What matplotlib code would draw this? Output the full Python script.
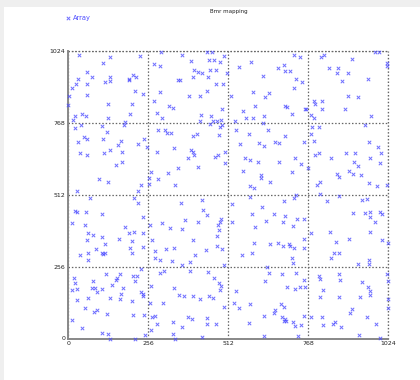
import matplotlib
matplotlib.use("Agg")
import matplotlib.pyplot as plt
from matplotlib.patches import Rectangle

# points (approximate)
array_x = [
    35, 110, 133, 230, 296, 363, 443, 459, 450, 466, 484, 392, 274, 293, 60, 77, 32, 26, 61, 13,
    132, 134, 116, 193, 195, 208, 217, 402, 414, 429, 455, 473, 399, 448, 352, 356, 472, 2, 59, 214,
    238, 294, 443, 386, 420, 0, 128, 204, 275, 321, 334, 285, 300, 424, 458, 43, 20, 57, 16, 128,
    196, 423, 462, 477, 455, 484,
    21, 42, 108, 179, 181, 50, 61, 32, 112, 123, 160, 168, 222, 241, 252, 37, 59, 114, 132, 173,
    153, 173, 99, 128, 233, 224, 27, 287, 308, 316, 329, 399, 412, 482, 285, 339, 392, 398, 401, 478,
    469, 384, 415, 350, 318, 264, 258, 288, 341, 258,
    499, 508, 494, 491, 489, 491, 503, 501, 584, 722, 742, 546, 672, 691, 694, 709, 622, 730, 748, 721,
    643, 629, 592, 520, 597, 695, 699, 558, 568, 592, 625, 716, 757, 762, 535, 624, 808, 819, 908, 981,
    994, 1019, 1021, 835, 864, 860, 896, 876, 958, 896, 928, 787, 788, 811, 812, 886, 970, 777, 785, 951,
    781, 803,
    537, 579, 549, 609, 627, 638, 661, 675, 694, 753, 564, 583, 608, 675, 725, 745, 768, 559, 617, 618,
    717, 646, 583, 595, 777, 785, 790, 802, 840, 890, 919, 915, 926, 965, 962, 991, 1001, 998, 898, 861,
    867, 911, 938, 962, 989, 1021, 797, 807,
    209, 224, 69, 21, 29, 57, 107, 11, 54, 64, 80, 59, 108, 117, 161, 181, 194, 209, 205, 240,
    239, 240, 197, 203, 89, 107, 112, 119, 37, 62, 62, 233, 360, 427, 431, 443, 375, 415, 300, 262,
    327, 364, 400, 267, 312, 338, 277, 405, 441, 477, 491, 477, 483, 480, 485, 490, 276, 293, 331, 388,
    364, 499,
    18, 23, 11, 27, 79, 121, 152, 157, 166, 206, 219, 213, 139, 75, 85, 92, 108, 132, 176, 165,
    169, 232, 238, 240, 29, 64, 203, 54, 82, 91, 123, 13, 207, 243, 43, 109, 128, 134, 214, 245,
    292, 305, 389, 448, 467, 482, 339, 355, 371, 398, 421, 450, 462, 484, 489, 497, 265, 262, 304, 269,
    276, 283, 266, 335, 383, 395, 364, 443, 444, 474, 336, 340, 427,
    583, 621, 690, 721, 728, 587, 659, 634, 692, 688, 598, 732, 718, 754, 593, 644, 672, 688, 705, 708,
    722, 754, 753, 556, 588, 720, 716, 523, 523,
    806, 867, 828, 940, 956, 912, 948, 966, 965, 996, 1003, 980, 838, 778, 858, 898, 967, 1003, 1022, 851,
    867, 840, 926, 963, 961,
    637, 631, 538, 529, 547, 580, 641, 684, 729, 753, 700, 743, 758, 725, 682, 689, 659, 662, 625, 684,
    694, 697, 690, 719, 724, 745, 754, 578, 625, 736,
    801, 806, 867, 869, 940, 958, 814, 807, 867, 935, 967, 964, 1021, 1022, 1022, 1022, 812, 778, 908, 902,
    846, 852, 814, 874, 957, 986, 930, 997,
]
array_y = [
    1009, 983, 1002, 1007, 1021, 1009, 1019, 1019, 993, 992, 986, 989, 976, 971, 950, 932, 926, 908, 905, 893,
    930, 918, 912, 926, 920, 938, 932, 957, 950, 946, 956, 958, 931, 930, 920, 920, 905, 864, 867, 881,
    872, 878, 883, 864, 863, 831, 835, 835, 847, 828, 821, 804, 787, 796, 793, 799, 793, 794, 777, 784,
    798, 773, 774, 774, 765, 755,
    750, 760, 757, 759, 772, 717, 709, 700, 711, 734, 689, 704, 691, 712, 683, 662, 653, 661, 670, 664,
    619, 628, 567, 558, 548, 525, 527, 741, 741, 733, 733, 723, 729, 724, 664, 678, 670, 665, 655, 655,
    645, 644, 610, 608, 589, 592, 570, 567, 546, 551,
    1007, 944, 905, 816, 778, 761, 665, 626, 986, 1009, 1002, 967, 962, 974, 952, 952, 935, 923, 914, 893,
    873, 860, 879, 863, 828, 828, 823, 810, 787, 786, 793, 798, 817, 817, 774, 766, 1002, 1009, 997, 1019,
    1021, 980, 971, 965, 962, 946, 946, 917, 925, 864, 860, 847, 837, 845, 817, 816, 793, 796, 784, 760,
    754, 754,
    741, 730, 691, 695, 686, 742, 700, 698, 721, 699, 643, 637, 628, 630, 643, 620, 608, 596, 582, 572,
    594, 558, 544, 537, 730, 704, 654, 662, 643, 661, 661, 627, 615, 643, 700, 681, 660, 624, 598, 586,
    576, 586, 582, 555, 542, 548, 546, 557,
    502, 483, 502, 455, 452, 450, 443, 413, 403, 376, 368, 350, 362, 338, 353, 398, 374, 378, 348, 376,
    433, 325, 323, 303, 317, 303, 302, 303, 297, 303, 281, 248, 481, 493, 457, 439, 422, 414, 413, 405,
    393, 391, 352, 352, 317, 321, 311, 299, 315, 330, 320, 365, 388, 405, 416, 424, 287, 279, 277, 271,
    261, 261,
    216, 198, 174, 175, 205, 228, 210, 215, 229, 224, 223, 205, 191, 179, 180, 166, 176, 146, 179, 141,
    160, 165, 158, 151, 138, 146, 135, 107, 96, 102, 87, 66, 83, 82, 38, 20, 17, 0, 0, 12,
    234, 241, 241, 238, 217, 199, 180, 155, 153, 151, 142, 151, 146, 171, 186, 113, 188, 127, 125, 77,
    79, 51, 32, 59, 75, 68, 41, 72, 53, 52, 15, 0, 6,
    505, 467, 490, 502, 511, 442, 445, 419, 436, 416, 398, 426, 400, 427, 341, 338, 341, 331, 338, 330,
    324, 355, 324, 297, 305, 269, 285, 416, 479,
    514, 507, 490, 493, 498, 448, 448, 450, 433, 450, 445, 416, 381, 374, 343, 354, 378, 350, 341, 303,
    305, 285, 267, 279, 267,
    255, 205, 168, 127, 110, 123, 233, 231, 233, 208, 182, 183, 182, 177, 123, 111, 92, 103, 81, 75,
    70, 64, 62, 57, 43, 47, 81, 56, 8, 8,
    224, 212, 229, 210, 201, 184, 171, 148, 148, 148, 168, 154, 231, 205, 141, 110, 75, 77, 104, 90,
    52, 59, 47, 41, 75, 53, 12, 2,
]
ticks = [0, 256, 512, 768, 1024]

fig = plt.figure(figsize=(4.2, 3.8), dpi=100, facecolor="#efefef")
# white page with a thin grey margin on the top and left
fig.patches.append(Rectangle((4 / 420, 0), 1, 1 - 7 / 380, transform=fig.transFigure,
                             facecolor="white", edgecolor="none", zorder=-10))

ax = fig.add_axes([68.3 / 420, 1 - 338.5 / 380, 320 / 420, 287.5 / 380])
ax.set_facecolor("white")
ax.scatter(array_x, array_y, marker="x", s=6, color="#4a4aff", linewidths=0.7,
           alpha=0.8, label="Array", zorder=3, clip_on=False)

ax.set_xlim(0, 1024)
ax.set_ylim(0, 1024)
ax.set_xticks(ticks)
ax.set_yticks(ticks)
ax.tick_params(length=0, labelsize=4.5, pad=2, colors="#222222")
ax.grid(True, color="#666666", linestyle=(0, (1.2, 1.5)), linewidth=0.9)
for side in ("top", "right"):
    ax.spines[side].set_visible(False)
for side in ("left", "bottom"):
    ax.spines[side].set_color("#888888")
    ax.spines[side].set_linewidth(1.4)
# closing dotted frame on the top and right
ax.axhline(1024, color="#666666", linestyle=(0, (1.2, 1.5)), linewidth=0.9, clip_on=False)
ax.axvline(1024, color="#666666", linestyle=(0, (1.2, 1.5)), linewidth=0.9, clip_on=False)

fig.text(229 / 420, 1 - 12 / 380, "Bmr mapping", ha="center", va="center", fontsize=4, color="#222222")
fig.legend(loc="center left", bbox_to_anchor=(66 / 420, 1 - 18 / 380), frameon=False,
           fontsize=4.8, labelcolor="#4a4aff", handlelength=0.6, handletextpad=0.4,
           borderpad=0, borderaxespad=0)

fig.savefig("out.png", dpi=100, facecolor=fig.get_facecolor())
